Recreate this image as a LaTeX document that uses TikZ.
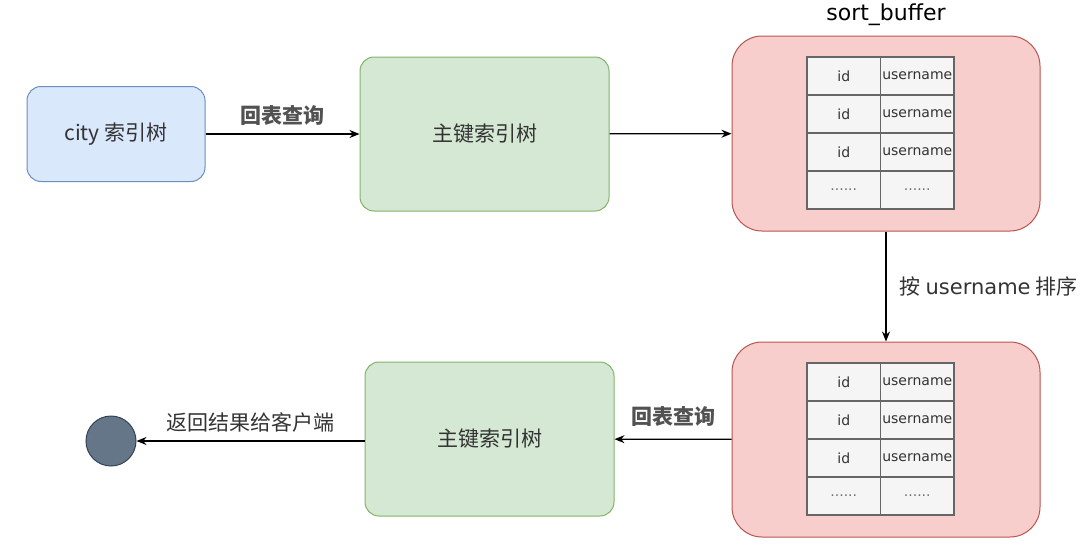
\documentclass[tikz,border=0pt]{standalone}
\usepackage{fontspec}
\setmainfont{Noto Sans CJK SC}
\newfontfamily\latinfont{DejaVu Sans}
\usetikzlibrary{positioning,arrows.meta}
\definecolor{bluefill}{HTML}{DAE8FC}
\definecolor{blueline}{HTML}{6C8EBF}
\definecolor{greenfill}{HTML}{D5E8D4}
\definecolor{greenline}{HTML}{82B366}
\definecolor{redfill}{HTML}{F8CECC}
\definecolor{redline}{HTML}{B85450}
\definecolor{cellfill}{HTML}{F5F5F5}
\definecolor{cellline}{HTML}{666666}
\definecolor{endfill}{HTML}{647687}
\definecolor{endline}{HTML}{314354}
\definecolor{labeltext}{HTML}{333333}
\tikzset{
  box/.style={draw, rounded corners=14pt, line width=1pt, text=labeltext,
    font=\fontsize{21}{25}\selectfont},
  bluebox/.style={box, fill=bluefill, draw=blueline, minimum width=178pt, minimum height=95pt},
  greenbox/.style={box, fill=greenfill, draw=greenline, minimum width=249pt, minimum height=154pt},
  redbox/.style={draw=redline, fill=redfill, line width=1pt, rounded corners=30pt,
    minimum width=308pt, minimum height=195pt},
  cell/.style={draw=cellline, fill=cellfill, line width=1.2pt, minimum width=73.5pt,
    minimum height=38pt, inner sep=0pt, text=labeltext, font=\latinfont\fontsize{14}{16}\selectfont},
  flow/.style={-{Stealth[length=10pt,width=8pt]}, line width=1.2pt},
  steplabel/.style={text=labeltext, font=\fontsize{21}{25}\selectfont},
  boldlabel/.style={text=labeltext!85, font=\bfseries\fontsize{21}{25}\selectfont},
}
\begin{document}
\begin{tikzpicture}[x=1pt,y=-1pt]
  \useasboundingbox (0,0) rectangle (1080,557);
  % top row
  \node[bluebox] (city) at (116,134) {city 索引树};
  \node[greenbox] (pk1) at (484.5,134) {主键索引树};
  \node[redbox] (buf1) at (886,133.5) {};
  \node[font=\latinfont\fontsize{22}{26}\selectfont] (title) at (886,15) {sort\_buffer};
  % bottom row
  \node[redbox] (buf2) at (886,439.5) {};
  \node[greenbox] (pk2) at (489.5,439) {主键索引树};
  \node[circle, draw=endline, fill=endfill, line width=1pt, minimum size=50pt] (client) at (111,441) {};
  % sort_buffer tables
  \foreach \t/\top in {1/57, 2/363} {
    \foreach \r in {0,1,2} {
      \node[cell] (t\t-\r-id) at (843.75,\top+19+38*\r) {id};
      \node[cell] (t\t-\r-name) at (917.25,\top+19+38*\r) {username};
    }
    \node[cell, text=labeltext!70] (t\t-3-id) at (843.75,\top+133) {......};
    \node[cell, text=labeltext!70] (t\t-3-name) at (917.25,\top+133) {......};
  }
  % connectors
  \draw[flow] (city) -- (pk1) node[midway, above=5pt, boldlabel] {回表查询};
  \draw[flow] (pk1) -- (buf1);
  \draw[flow] (buf1) -- (buf2) node[midway, right=10pt, steplabel] {按 {\latinfont username} 排序};
  \draw[flow] (buf2) -- (pk2) node[midway, above=9pt, boldlabel] {回表查询};
  \draw[flow] (pk2.west |- client) -- (client) node[midway, above=5pt, steplabel] {返回结果给客户端};
\end{tikzpicture}
\end{document}
